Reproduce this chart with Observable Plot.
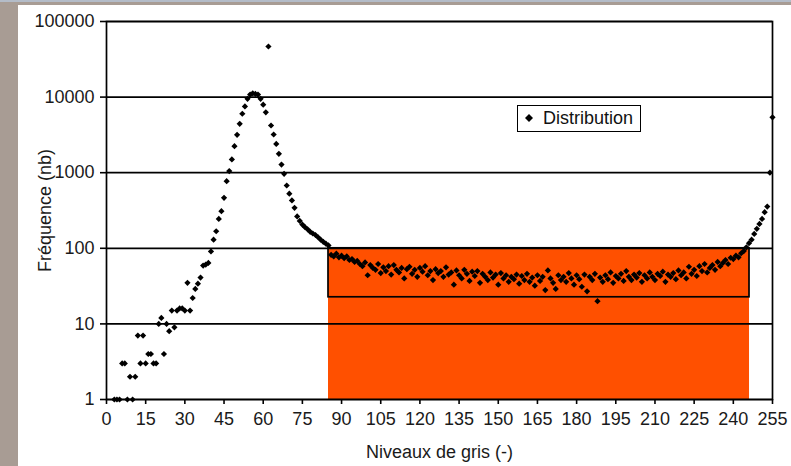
<!DOCTYPE html>
<html>
<head>
<meta charset="utf-8">
<script src="https://cdn.jsdelivr.net/npm/d3@7"></script>
<script src="https://cdn.jsdelivr.net/npm/@observablehq/plot@0.6"></script>
<style>
  html, body { margin: 0; padding: 0; }
  body { width: 791px; height: 466px; overflow: hidden; position: relative; background: #a89c94; font-family: Arial, "Liberation Sans", sans-serif; }
  #topstrip { position: absolute; left: 0; top: 0; width: 791px; height: 2px; background: #b4bcc8; }
  #sheet { position: absolute; left: 18px; top: 5px; width: 773px; height: 461px; background: #fff; }
  #legend { position: absolute; left: 517px; top: 105px; width: 122px; height: 25px; border: 1.5px solid #000; background: #fff; font-size: 18px; color: #111; }
  #legend svg { position: absolute; left: 7px; top: 8px; }
  #legend span { position: absolute; left: 25px; top: 2px; white-space: nowrap; }
</style>
</head>
<body>
<div id="topstrip"></div>
<div id="sheet"></div>
<div id="legend"><svg width="8" height="8"><polygon points="4,0 8,4 4,8 0,4" fill="#000"/></svg><span>Distribution</span></div>
<script>
// Gray levels (x) and counts (y)
const levels = [
  3,4,5,6,7,8,9,10,11,12,13,14,15,16,17,18,19,20,21,22,23,24,25,26,27,28,29,30,
  31,32,33,34,35,36,37,38,39,40,41,42,43,44,45,46,47,48,49,50,
  51,52,53,54,55,56,57,58,59,60,61,62,63,64,65,66,67,68,69,70,
  71,72,73,74,75,76,77,78,79,80,81,82,83,84,85
];
const counts = [
  1,1,1,3,3,1,2,1,2,7,3,7,3,4,4,3,3,10,12,4,10,8,15,9,15,16,16,15,
  35,15,22,29,34,41,59,61,64,91,130,168,245,310,466,773,1050,1500,2240,3170,
  4430,6020,7520,9500,10800,11230,11000,10800,9500,7950,6300,46700,4210,3200,2400,1780,1280,967,677,527,
  430,343,264,230,206,190,178,165,157,150,140,130,122,115,109
];
// flat zone, gray levels 86..244
const flatStart = 86;
const flatCounts = [
  82,78,85,76,80,74,78,70,72,66,
  68,62,58,65,44,60,55,52,62,47,
  56,50,58,45,60,52,48,55,40,53,
  57,46,52,42,55,49,58,44,50,38,
  53,47,50,42,56,45,48,33,51,44,
  40,52,46,37,49,43,50,35,46,42,
  38,48,41,45,33,47,40,44,36,42,
  39,45,34,43,38,46,36,41,32,44,
  37,42,28,51,40,35,29,44,38,42,
  36,47,40,33,44,39,31,45,27,42,
  38,46,20,41,36,44,39,48,35,43,
  40,46,37,50,42,38,45,41,47,36,
  44,40,48,42,38,46,43,49,36,45,
  42,47,39,51,44,48,40,57,46,52,
  43,58,50,62,48,55,60,52,66,58,
  64,70,62,75,72,80,76,86,92
];
const tailLevels = [245,246,247,248,249,250,251,252,253,254,255];
const tailCounts = [103,117,130,155,181,210,245,300,357,1000,5400];

const xTicks = [0,15,30,45,60,75,90,105,120,135,150,165,180,195,210,225,240,255];
const yTicks = [1,10,100,1000,10000,100000];

// highlighted zone
const zoneX = [85, 246.2];
const zoneFillY = [1, 100];
const zoneBoxY = [22.5, 100];

const points = [];
levels.forEach((l, i) => points.push({x: l, y: counts[i]}));
flatCounts.forEach((c, i) => points.push({x: flatStart + i, y: c}));
tailLevels.forEach((l, i) => points.push({x: l, y: tailCounts[i]}));

const chart = Plot.plot({
  width: 773,
  height: 461,
  marginLeft: 88,
  marginTop: 16,
  marginRight: 19,
  marginBottom: 67,
  style: {background: "white", fontFamily: "Arial, 'Liberation Sans', sans-serif", fontSize: "18px", color: "#1a1a1a", overflow: "visible"},
  x: {domain: [0, 255], label: null},
  y: {type: "log", domain: [1, 100000], label: null},
  marks: [
    Plot.rect([0], {x1: () => zoneX[0], x2: () => zoneX[1], y1: () => zoneFillY[0], y2: () => zoneFillY[1], fill: "#ff5000"}),
    Plot.ruleY(yTicks, {stroke: "#000", strokeWidth: 1.7}),
    Plot.rect([0], {x1: () => zoneX[0], x2: () => zoneX[1], y1: () => zoneBoxY[0], y2: () => zoneBoxY[1], fill: "none", stroke: "#000", strokeWidth: 1.7}),
    Plot.dot(points, {x: "x", y: "y", symbol: "diamond2", r: 2.8, fill: "#000", stroke: "none"}),
    Plot.frame({stroke: "#000", strokeWidth: 1.7}),
    Plot.axisX({ticks: xTicks, tickSize: 5, tickPadding: 8, tickFormat: d => String(d), label: null, stroke: "#000", strokeWidth: 1.6, fontSize: 18}),
    Plot.axisY({ticks: yTicks, tickSize: 6, tickPadding: 6, tickFormat: d => String(d), label: null, stroke: "#000", strokeWidth: 1.6, fontSize: 18}),
    Plot.text(["Niveaux de gris (-)"], {frameAnchor: "bottom", dy: 53, lineAnchor: "middle", textAnchor: "middle", fontSize: 18, fill: "#1a1a1a"}),
    Plot.text(["Fréquence (nb)"], {frameAnchor: "left", dx: -61, rotate: -90, textAnchor: "middle", lineAnchor: "middle", fontSize: 18, fill: "#1a1a1a"})
  ]
});
document.getElementById("sheet").appendChild(chart);
</script>
</body>
</html>
